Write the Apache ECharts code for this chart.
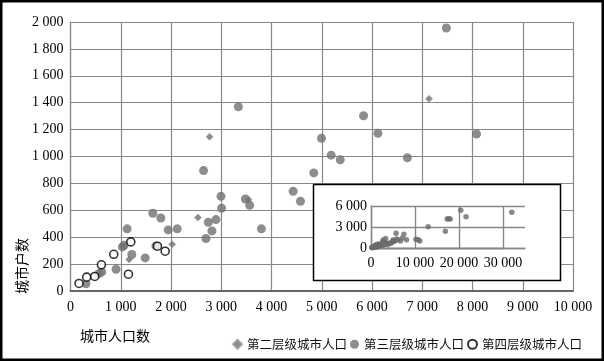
<!DOCTYPE html>
<html><head><meta charset="utf-8">
<script src="https://cdn.jsdelivr.net/npm/echarts@6/dist/echarts.min.js"></script>
<style>html,body{margin:0;padding:0;background:#fff}#c{width:604px;height:361px}</style>
</head><body><div id="c"></div>
<script>
// Data (population, households)
var tier2Name = '第二层级城市人口';
var tier3Name = '第三层级城市人口';
var tier4Name = '第四层级城市人口';
var tier2 = [[1167,234],[2024,347],[2536,546],[2768,1147],[3545,679],[7135,1429]];
var tier3 = [[309,53],[570,130],[622,142],[907,162],[1033,328],[1067,340],[1127,462],[1220,271],[1486,246],[1639,578],[1700,335],[1798,543],[1944,454],[2124,462],[2648,895],[2696,390],[2742,511],[2815,447],[2895,531],[2995,704],[3007,615],[3340,1370],[3480,684],[3565,637],[3799,462],[4431,741],[4576,667],[4842,878],[4995,1135],[5188,1010],[5368,975],[5832,1303],[6118,1172],[6704,991],[7480,1955],[8080,1167]];
var tier4 = [[170,56],[322,103],[482,108],[615,195],[861,273],[1153,125],[1200,365],[1731,333],[1884,296]];
// Larger cities only visible in the inset
var largeCities = [[5700,2100],[10200,1250],[10700,1180],[11100,1000],[13000,3050],[16900,2400],[17300,4150],[17650,4170],[18000,4150],[20400,5400],[21600,4470],[32000,5100]];
var mainXTicks = {min:0, max:10000, interval:1000};
var mainYTicks = {min:0, max:2000, interval:200};
var insetX = {min:0, max:35000, tickMax:30000, interval:10000};
var insetY = {min:0, tickMax:6000, interval:3000};

function fmt(v){ return String(v).replace(/\B(?=(\d{3})+(?!\d))/g,' '); }
var serif = '"Liberation Serif","DejaVu Serif",serif';
var cjk = '"Noto Sans CJK SC","Noto Sans CJK JP",sans-serif';
var insetSmall = tier2.concat(tier3, tier4);
var gridCol = '#888';
var inL = 371, inW = 154, inB = 248, inH = 42; // inset: x 0..35000 over inW px, y 0..6000 over inH px
var ZL = 2; // inset layer
var tw = inW*insetX.tickMax/insetX.max;

var hidden = {show:false};
var insetLine = {show:true, onZero:false, lineStyle:{color:gridCol, width:1.4}};
var insetSplit = {show:true, lineStyle:{color:gridCol, width:1.4}};
var chart = echarts.init(document.getElementById('c'));
chart.setOption({
  animation:false,
  backgroundColor:'#fff',
  grid:[
    {left:70.5, right:31, top:22, bottom:70},
    {left:inL, width:tw, top:inB-inH, height:inH, zlevel:ZL},
    {left:inL, width:inW, top:inB-inH, height:inH, zlevel:ZL}
  ],
  legend:{
    left:227, top:333, itemWidth:9, itemHeight:9, itemGap:3,
    textStyle:{fontFamily:cjk, fontSize:12.5, color:'#111'},
    data:[
      {name:tier2Name, icon:'diamond'},
      {name:tier3Name, icon:'circle'},
      {name:tier4Name, icon:'circle'}
    ]
  },
  xAxis:[
    {type:'value', gridIndex:0, min:mainXTicks.min, max:mainXTicks.max, interval:mainXTicks.interval,
     axisLine:{show:true, lineStyle:{color:'#666', width:2}}, axisTick:{show:false},
     axisLabel:{formatter:fmt, fontFamily:serif, fontSize:14, color:'#000', margin:9},
     splitLine:{show:true, lineStyle:{color:gridCol, width:1.2}}},
    {type:'value', gridIndex:1, min:insetX.min, max:insetX.tickMax, interval:insetX.interval, zlevel:ZL,
     axisLine:insetLine, axisTick:hidden,
     axisLabel:{formatter:fmt, fontFamily:serif, fontSize:14, color:'#000', margin:8},
     splitLine:insetSplit},
    {type:'value', gridIndex:2, min:insetX.min, max:insetX.max, zlevel:ZL,
     axisLine:insetLine, axisTick:hidden, axisLabel:hidden, splitLine:hidden}
  ],
  yAxis:[
    {type:'value', gridIndex:0, min:mainYTicks.min, max:mainYTicks.max, interval:mainYTicks.interval,
     axisLine:{show:true, lineStyle:{color:gridCol, width:1.2}}, axisTick:{show:false},
     axisLabel:{formatter:fmt, fontFamily:serif, fontSize:14, color:'#000', margin:7},
     splitLine:{show:true, lineStyle:{color:gridCol, width:1.2}}},
    {type:'value', gridIndex:1, min:insetY.min, max:insetY.tickMax, interval:insetY.interval, zlevel:ZL,
     axisLine:insetLine, axisTick:hidden,
     axisLabel:{formatter:fmt, fontFamily:serif, fontSize:14, color:'#000', margin:4},
     splitLine:hidden},
    {type:'value', gridIndex:2, min:insetY.min, max:insetY.tickMax, interval:insetY.interval, zlevel:ZL,
     axisLine:hidden, axisTick:hidden, axisLabel:hidden, splitLine:insetSplit}
  ],
  series:[
    {name:tier2Name, type:'scatter', xAxisIndex:0, yAxisIndex:0, symbol:'diamond', symbolSize:7,
     itemStyle:{color:'#6f6f6f', borderColor:'#9a9a9a', borderWidth:0.8}, data:tier2},
    {name:tier3Name, type:'scatter', xAxisIndex:0, yAxisIndex:0, symbol:'circle', symbolSize:9,
     itemStyle:{color:'#707070'}, data:tier3},
    {name:tier4Name, type:'scatter', xAxisIndex:0, yAxisIndex:0, symbol:'circle', symbolSize:8,
     itemStyle:{color:'#fff', borderColor:'#000', borderWidth:1.6}, data:tier4},
    {name:'insetSmall', type:'scatter', xAxisIndex:1, yAxisIndex:1, symbol:'circle', symbolSize:5.5, zlevel:ZL, z:7,
     clip:false, itemStyle:{color:'#6c6c6c'}, data:insetSmall},
    {name:'insetLarge', type:'scatter', xAxisIndex:2, yAxisIndex:2, symbol:'circle', symbolSize:5.5, zlevel:ZL, z:7,
     clip:false, itemStyle:{color:'#6c6c6c'}, data:largeCities}
  ],
  graphic:[
    {type:'rect', zlevel:1, z:3, shape:{x:313.5, y:184.5, width:247, height:96}, style:{fill:'#fff', stroke:'#000', lineWidth:1.5}},
    {type:'rect', zlevel:3, z:100, shape:{x:1.25, y:1.25, width:601.5, height:358.5}, style:{fill:'none', stroke:'#000', lineWidth:2.5}},
    {type:'text', zlevel:3, z:100, x:80, y:329, style:{text:'城市人口数', font:'14px '+cjk, fill:'#000'}},
    {type:'text', zlevel:3, z:100, x:22, y:266, rotation:Math.PI/2, style:{text:'城市户数', font:'14px '+cjk, fill:'#000', textAlign:'center', textVerticalAlign:'middle'}}
  ]
});
</script></body></html>
